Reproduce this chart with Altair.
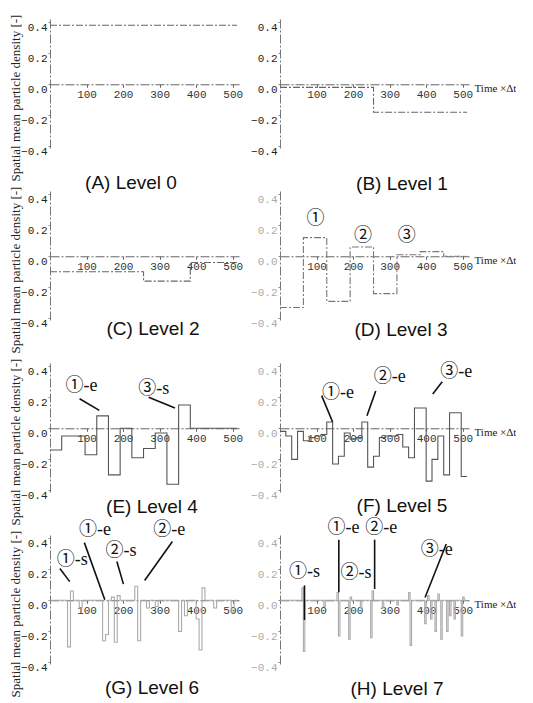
import altair as alt
import pandas as pd

T_END = 512
panel_titles = ["(A) Level 0", "(B) Level 1", "(C) Level 2", "(D) Level 3",
                "(E) Level 4", "(F) Level 5", "(G) Level 6", "(H) Level 7"]

# step values of each decomposition level (equal-length segments over 0..512)
level0 = [0.38]
level1 = [-0.02, -0.18]
level2 = [-0.10, -0.10, -0.16, -0.04]
level3 = [-0.33, 0.12, -0.29, 0.06, -0.24, 0.01, 0.03, 0.0]
level4 = [-0.14, -0.05, -0.05, -0.17, 0.08, -0.30, 0.0, -0.19,
          -0.13, -0.03, -0.36, 0.15, 0.0, 0.0, 0.0, 0.0]
level5 = [-0.02, -0.05, -0.20, -0.02, -0.08, -0.06, -0.05, -0.04,
          0.04, -0.23, -0.18, -0.03, -0.07, -0.06, 0.04, -0.25,
          -0.18, -0.06, -0.05, -0.05, -0.04, -0.12, -0.19, 0.13,
          0.13, -0.34, -0.20, -0.05, -0.30, 0.10, 0.10, -0.31]
level6 = [0, 0, 0, 0, 0, 0, -0.30, 0.06,
          0, 0, -0.05, 0, 0, 0, 0, 0,
          0, 0, -0.26, -0.22, 0, 0.02, -0.27, 0.03,
          0, 0, 0, 0, 0, 0.09, -0.26, 0,
          0, -0.05, 0, 0, -0.04, 0, 0, 0,
          0, 0, 0, 0, -0.20, 0, -0.10, 0,
          0, 0, -0.12, -0.32, 0.08, 0, 0, 0,
          -0.05, 0, 0, 0, 0, 0, -0.08, 0]
level7 = [0] * 128
for seg, val in [(15, 0.08), (16, -0.33), (30, -0.04), (39, 0.05), (40, -0.23),
                 (47, -0.25), (48, 0.02), (55, -0.05), (62, -0.24), (63, 0.06),
                 (70, -0.05), (80, -0.03), (88, 0.05), (89, -0.29), (99, -0.15),
                 (101, 0.03), (103, -0.12), (106, -0.20), (108, 0.04), (110, -0.25),
                 (114, -0.20), (116, -0.10), (119, -0.12), (124, -0.23), (125, 0.02)]:
    level7[seg] = val
levels = [level0, level1, level2, level3, level4, level5, level6, level7]

x_ticks = [100, 200, 300, 400, 500]
y_ticks = [-0.4, -0.2, 0.0, 0.2, 0.4]

# annotations: (label, t, value) and pointer lines (t, v, t2, v2)
ann_text = {
    3: [("①", 97, 0.24), ("②", 227, 0.13), ("③", 347, 0.13)],
    4: [("①-e", 86, 0.27), ("③-s", 284, 0.25)],
    5: [("①-e", 159, 0.23), ("②-e", 300, 0.33), ("③-e", 482, 0.36)],
    6: [("①-s", 61, 0.26), ("①-e", 123, 0.45), ("②-s", 194, 0.316), ("②-e", 326, 0.45)],
    7: [("①-s", 67, 0.18), ("①-e", 174, 0.463), ("②-s", 208, 0.173),
        ("②-e", 277, 0.463), ("③-e", 429, 0.324)],
}
ann_lines = {
    4: [(81, 0.19, 135, 0.115), (270, 0.20, 342, 0.13)],
    5: [(114, 0.21, 144, 0.04), (262, 0.24, 238, 0.08), (444, 0.30, 418, 0.22)],
    6: [(27, 0.204, 54, 0.12), (94, 0.371, 150, 0.004), (183, 0.249, 201, 0.104),
        (335, 0.378, 259, 0.127)],
    7: [(67, 0.096, 67, -0.127), (161, 0.39, 161, 0.051), (259, 0.39, 259, 0.073),
        (455, 0.362, 397, 0.018)],
}

signal_colors = ["#666", "#666", "#666", "#777", "#555", "#555", "#aaa", "#aaa"]
ylabel_colors = ["#222", "#222", "#222", "#aaa", "#222", "#aaa", "#222", "#aaa"]
title_offsets = [-7, 19, -33, -7, -27, -3, -18, 8]
title_dx = [-14, 27, 8, 26, 7, 27, 7, 22]

W, H = 190, 129
YMIN, YMAX = -0.41, 0.42
ZERO_FROM_TOP = H * YMAX / (YMAX - YMIN)
XS = alt.Scale(domain=[0, 520], nice=False, zero=False)
YS = alt.Scale(domain=[YMIN, YMAX], nice=False, zero=False)
AXDASH = [9, 2, 2, 2]


def panel(i):
    left = i % 2 == 0
    vals = levels[i]
    n = len(vals)
    step = T_END / n
    df = pd.DataFrame({"t": [k * step for k in range(n)] + [T_END],
                       "v": list(vals) + [vals[-1]]})
    xaxis_kw = dict(values=x_ticks, format="d", offset=-(H - ZERO_FROM_TOP),
                    labelFont="Liberation Mono", labelFontSize=11, labelColor="#333",
                    labelPadding=1, tickSize=3, tickColor="#666", domainColor="#666",
                    domainDash=AXDASH, grid=False, labelFlush=False)
    if left:
        xaxis_kw["title"] = ""
    else:
        xaxis_kw.update(title="Time ×Δt", titleX=W + 4, titleY=4, titleAngle=0,
                        titleAlign="left", titleBaseline="middle",
                        titleFont="Liberation Serif", titleFontSize=11,
                        titleFontWeight="normal", titleColor="#222")
    yaxis_kw = dict(values=y_ticks, format=".1f", labelFont="Liberation Mono",
                    labelFontSize=11, labelColor=ylabel_colors[i], labelPadding=1,
                    labelOffset=5, tickSize=2, tickColor="#888", domainColor="#777",
                    domainDash=AXDASH, grid=False)
    if left:
        yaxis_kw.update(title="Spatial mean particle density [-]",
                        titleFont="Liberation Serif", titleFontSize=13,
                        titleFontWeight="normal", titleColor="#222",
                        titleX=-28, titleY=H / 2 + 14, titleAngle=270,
                        titleAlign="center", titleBaseline="bottom")
    else:
        yaxis_kw["title"] = ""
    xax = alt.Axis(**xaxis_kw)
    yax = alt.Axis(**yaxis_kw)

    dash = [7, 2, 2, 2] if i < 4 else [1, 0]
    line = alt.Chart(df).mark_line(interpolate="step-after", color=signal_colors[i],
                                   strokeWidth=1.1, strokeDash=dash).encode(
        x=alt.X("t:Q", scale=XS, axis=xax),
        y=alt.Y("v:Q", scale=YS, axis=yax),
    )
    layers = [line]
    if i in ann_lines:
        ldf = pd.DataFrame(ann_lines[i], columns=["t", "v", "t2", "v2"])
        layers.append(alt.Chart(ldf).mark_rule(color="#111", strokeWidth=1.6).encode(
            x=alt.X("t:Q", scale=XS, axis=xax), y=alt.Y("v:Q", scale=YS, axis=yax),
            x2="t2:Q", y2="v2:Q"))
    if i in ann_text:
        tdf = pd.DataFrame(ann_text[i], columns=["label", "t", "v"])
        layers.append(alt.Chart(tdf).mark_text(
            font="Liberation Serif, 'Noto Sans CJK JP'", fontSize=18, color="#111",
            baseline="middle", align="center").encode(
            x=alt.X("t:Q", scale=XS, axis=xax), y=alt.Y("v:Q", scale=YS, axis=yax),
            text="label:N"))
    return alt.layer(*layers).properties(
        width=W, height=H,
        title=alt.TitleParams(panel_titles[i], orient="bottom", frame="group",
                              anchor="middle", offset=title_offsets[i],
                              dx=title_dx[i], font="Liberation Sans",
                              fontSize=19, fontWeight="normal", color="#111"))


chart = alt.concat(*[panel(i) for i in range(8)], columns=2,
                   spacing={"row": 43, "column": 40}, bounds="flush").properties(
    padding={"left": 0, "top": 6, "right": 0, "bottom": 0}
).configure_view(stroke=None)

chart.save("out.html", embed_options={"renderer": "svg", "actions": False})
